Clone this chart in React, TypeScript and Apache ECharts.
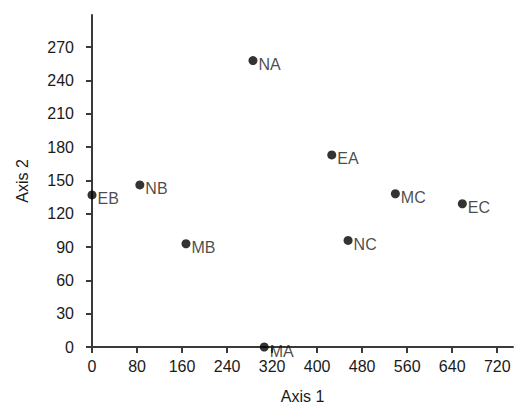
import React, { useEffect, useRef } from "react";
import * as echarts from "echarts";

const pointNames = ["EB", "NB", "NA", "EA", "MC", "EC", "NC", "MB", "MA"];
const axis1Values = [0, 85, 286, 426, 539, 658, 455, 167, 306];
const axis2Values = [137, 146, 258, 173, 138, 129, 96, 93, 0];
const xTicks = [0, 80, 160, 240, 320, 400, 480, 560, 640, 720];
const yTicks = [0, 30, 60, 90, 120, 150, 180, 210, 240, 270];

const FONT = "'Liberation Sans', Arial, sans-serif";
const AXIS_COLOR = "#3a3a3a";
const TEXT_COLOR = "#1a1a1a";

export default function App() {
  const ref = useRef<HTMLDivElement>(null);
  useEffect(() => {
    if (!ref.current) return;
    const chart = echarts.init(ref.current, undefined, { renderer: "svg" });
    const data = pointNames.map((n, i) => ({ name: n, value: [axis1Values[i], axis2Values[i]] }));
    chart.setOption({
      animation: false,
      backgroundColor: "#ffffff",
      grid: { left: 92, top: 15, right: 1, bottom: 58, outerBoundsMode: "none", containLabel: false },
      xAxis: {
        type: "value",
        min: 0,
        max: 748,
        interval: 80,
        name: "Axis 1",
        nameLocation: "middle",
        nameGap: 41,
        nameTextStyle: { fontFamily: FONT, fontSize: 16, color: TEXT_COLOR },
        axisLine: { onZero: false, lineStyle: { color: AXIS_COLOR, width: 2 } },
        axisTick: { show: true, length: 6, customValues: xTicks, lineStyle: { color: AXIS_COLOR, width: 2 } },
        axisLabel: { customValues: xTicks, margin: 11, fontFamily: FONT, fontSize: 16, color: TEXT_COLOR },
        splitLine: { show: false },
      },
      yAxis: {
        type: "value",
        min: 0,
        max: 299,
        interval: 30,
        name: "Axis 2",
        nameLocation: "middle",
        nameGap: 62,
        nameRotate: 90,
        nameTextStyle: { fontFamily: FONT, fontSize: 16, color: TEXT_COLOR },
        axisLine: { show: true, onZero: false, lineStyle: { color: AXIS_COLOR, width: 2 } },
        axisTick: { show: true, length: 6, customValues: yTicks, lineStyle: { color: AXIS_COLOR, width: 2 } },
        axisLabel: { customValues: yTicks, margin: 18, fontFamily: FONT, fontSize: 16, color: TEXT_COLOR },
        splitLine: { show: false },
      },
      series: [
        {
          type: "scatter",
          clip: false,
          symbol: "circle",
          symbolSize: 9,
          itemStyle: { color: "#000000" },
          label: {
            show: true,
            position: "right",
            distance: 1,
            offset: [0, 4],
            formatter: "{b}",
            fontFamily: FONT,
            fontSize: 16,
            color: TEXT_COLOR,
          },
          data,
        },
      ],
    });
    return () => chart.dispose();
  }, []);
  return (
    <div
      ref={ref}
      style={{ position: "fixed", left: 0, top: 0, width: 514, height: 405 }}
    />
  );
}
